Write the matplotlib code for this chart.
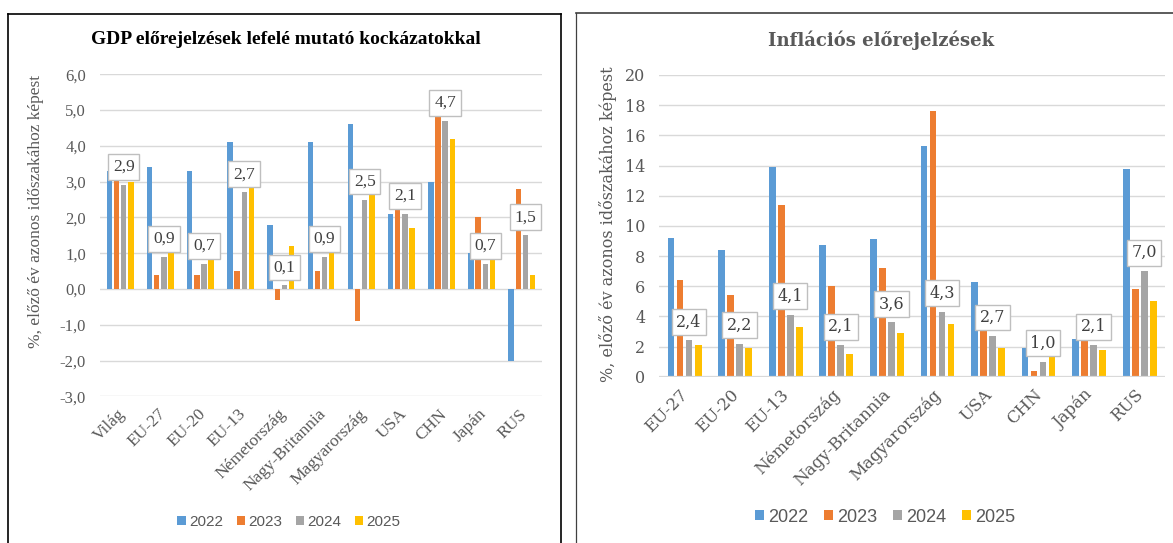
import matplotlib
matplotlib.use("Agg")
import matplotlib.pyplot as plt
import matplotlib.transforms as mtransforms
from matplotlib.lines import Line2D
from matplotlib.ticker import FuncFormatter, MultipleLocator
import numpy as np

W, H = 1173, 543
DPI = 100

years = ["2022", "2023", "2024", "2025"]
colors = ["#5B9BD5", "#ED7D31", "#A5A5A5", "#FFC000"]

# GDP forecasts, % change on previous year
gdp_countries = ["Világ", "EU-27", "EU-20", "EU-13", "Németország", "Nagy-Britannia",
                 "Magyarország", "USA", "CHN", "Japán", "RUS"]
gdp_2022 = [3.3, 3.4, 3.3, 4.1, 1.8, 4.1, 4.6, 2.1, 3.0, 1.0, -2.0]
gdp_2023 = [3.1, 0.4, 0.4, 0.5, -0.3, 0.5, -0.9, 2.3, 4.9, 2.0, 2.8]
gdp_2024 = [2.9, 0.9, 0.7, 2.7, 0.1, 0.9, 2.5, 2.1, 4.7, 0.7, 1.5]
gdp_2025 = [3.0, 1.1, 0.9, 2.9, 1.2, 1.1, 2.7, 1.7, 4.2, 0.9, 0.4]

# inflation forecasts, % change on previous year
infl_countries = ["EU-27", "EU-20", "EU-13", "Németország", "Nagy-Britannia",
                  "Magyarország", "USA", "CHN", "Japán", "RUS"]
infl_2022 = [9.2, 8.4, 13.9, 8.7, 9.1, 15.3, 6.3, 1.9, 2.5, 13.8]
infl_2023 = [6.4, 5.4, 11.4, 6.0, 7.2, 17.6, 3.6, 0.4, 2.7, 5.8]
infl_2024 = [2.4, 2.2, 4.1, 2.1, 3.6, 4.3, 2.7, 1.0, 2.1, 7.0]
infl_2025 = [2.1, 1.9, 3.3, 1.5, 2.9, 3.5, 1.9, 1.5, 1.8, 5.0]

GRID = "#D9D9D9"
TXT = "#595959"

fig = plt.figure(figsize=(W / DPI, H / DPI), dpi=DPI)


def px(x0, y0, x1, y1):
    # pixel box (top-left origin) -> figure fraction rect
    return [x0 / W, 1 - y1 / H, (x1 - x0) / W, (y1 - y0) / H]


def draw_bars(ax, cats, series, label_vals, font, label_size, lift=13.3):
    x = np.arange(len(cats))
    pitch, width = 0.178, 0.135
    for i, (vals, c, yr) in enumerate(zip(series, colors, years)):
        ax.bar(x + (i - 1.5) * pitch, vals, width, color=c, label=yr, zorder=2)
    # value boxes sit above the 2024 bar
    for xi, v in zip(x, label_vals):
        ax.annotate(f"{v:.1f}".replace(".", ","), xy=(xi + 0.5 * pitch, v),
                    xytext=(0, lift), textcoords="offset points",
                    ha="center", va="center", fontsize=label_size,
                    family=font, color="#404040", zorder=5,
                    bbox=dict(boxstyle="square,pad=0.28", fc="white",
                              ec="#BFBFBF", lw=1.0))
    ax.set_xlim(-0.5, len(cats) - 0.5)
    for s in ax.spines.values():
        s.set_visible(False)
    ax.grid(axis="y", color=GRID, lw=1.0, zorder=0)
    ax.set_axisbelow(True)
    ax.tick_params(length=0)


# ---- left panel: GDP ----
ax1 = fig.add_axes(px(100, 74.2, 542, 396.4))
draw_bars(ax1, gdp_countries, [gdp_2022, gdp_2023, gdp_2024, gdp_2025],
          gdp_2024, "Liberation Serif", 12.5, lift=13)
ax1.set_ylim(-3, 6)
ax1.yaxis.set_major_locator(MultipleLocator(1))
ax1.yaxis.set_major_formatter(FuncFormatter(lambda v, p: f"{v:.1f}".replace(".", ",")))
ax1.tick_params(axis="y", pad=10, labelsize=12, labelcolor=TXT)
for t in ax1.get_yticklabels():
    t.set_family("Liberation Serif")
ax1.set_xticks(np.arange(len(gdp_countries)))
ax1.set_xticklabels(gdp_countries, rotation=45, ha="right", va="top",
                    rotation_mode="anchor", family="Liberation Serif",
                    fontsize=12.5, color=TXT)
ax1.tick_params(axis="x", pad=7)
for t in ax1.get_xticklabels():
    t.set_transform(t.get_transform() +
                    mtransforms.ScaledTranslation(-0.03, 0, fig.dpi_scale_trans))

fig.text(286 / W, 1 - 40 / H, "GDP előrejelzések lefelé mutató kockázatokkal",
         ha="center", va="center", family="Liberation Serif", weight="bold",
         fontsize=14, color="black")
fig.text(36 / W, 1 - 211 / H, "%, előző év azonos időszakához képest",
         ha="center", va="center", rotation=90, family="Liberation Serif",
         fontsize=12.5, color=TXT)
ax1.legend(loc="center", bbox_to_anchor=(289 / W, 1 - 522 / H),
           bbox_transform=fig.transFigure, ncol=4, frameon=False,
           prop={"family": "Liberation Sans", "size": 11},
           labelcolor=TXT, handlelength=0.55, handleheight=0.55,
           handletextpad=0.2, columnspacing=0.9)

# ---- right panel: inflation ----
ax2 = fig.add_axes(px(659.3, 75, 1165, 376.7))
draw_bars(ax2, infl_countries, [infl_2022, infl_2023, infl_2024, infl_2025],
          infl_2024, "DejaVu Serif", 11.5)
ax2.set_ylim(0, 20)
ax2.yaxis.set_major_locator(MultipleLocator(2))
ax2.tick_params(axis="y", pad=10, labelsize=11.5, labelcolor=TXT)
for t in ax2.get_yticklabels():
    t.set_family("DejaVu Serif")
ax2.axhline(0, color=GRID, lw=1.6, zorder=3)
ax2.set_xticks(np.arange(len(infl_countries)))
ax2.set_xticklabels(infl_countries, rotation=45, ha="right", va="top",
                    rotation_mode="anchor", family="DejaVu Serif",
                    fontsize=12, color=TXT)
ax2.tick_params(axis="x", pad=7)
for t in ax2.get_xticklabels():
    t.set_transform(t.get_transform() +
                    mtransforms.ScaledTranslation(-0.05, 0, fig.dpi_scale_trans))

fig.text(881 / W, 1 - 40 / H, "Inflációs előrejelzések",
         ha="center", va="center", family="DejaVu Serif", weight="bold",
         fontsize=13, color=TXT)
fig.text(608 / W, 1 - 224 / H, "%, előző év azonos időszakához képest",
         ha="center", va="center", rotation=90, family="DejaVu Serif",
         fontsize=11.5, color=TXT)
ax2.legend(loc="center", bbox_to_anchor=(885 / W, 1 - 517 / H),
           bbox_transform=fig.transFigure, ncol=4, frameon=False,
           prop={"family": "Liberation Sans", "size": 13},
           labelcolor=TXT, handlelength=0.5, handleheight=0.5,
           handletextpad=0.2, columnspacing=0.9)

# panel frames
fig.add_artist(Line2D([8 / W, 8 / W], [0, 1 - 14 / H], color="black", lw=1.2))
fig.add_artist(Line2D([8 / W, 561 / W], [1 - 14 / H, 1 - 14 / H], color="black", lw=1.2))
fig.add_artist(Line2D([561 / W, 561 / W], [0, 1 - 14 / H], color="black", lw=1.2))
fig.add_artist(Line2D([576 / W, 576 / W], [0, 1 - 13 / H], color="#404040", lw=0.9))
fig.add_artist(Line2D([576 / W, 1], [1 - 13 / H, 1 - 13 / H], color="#404040", lw=1.2))

fig.savefig("out.png", dpi=DPI)
